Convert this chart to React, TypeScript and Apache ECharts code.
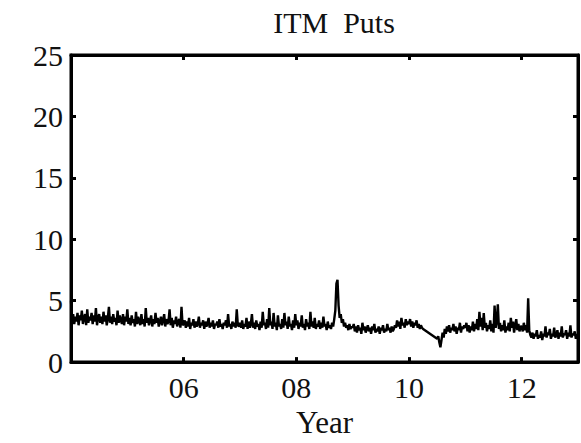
import React, { useEffect, useRef } from "react";
import * as echarts from "echarts";

// Weekly values (52 per year) of the ITM puts series
const y2004 = [5.0,3.2,3.9,3.1,3.7,3.3,4.0,3.0,3.8,3.4,4.2,3.1,3.6,3.9,3.0,4.3,3.2,3.7,3.4,4.0,3.1,3.8,3.3,4.4,3.0,3.6,3.9,3.2,3.7,3.1,4.1,3.3,3.8,3.0,3.6,4.5,3.2,3.7,3.1,3.9,3.3,3.6,3.0,4.2,3.2,3.8,3.4,3.1,3.9,3.0,3.7,3.3];
const y2005 = [4.3,3.1,3.6,3.0,3.8,3.2,3.5,2.9,4.1,3.1,3.7,3.3,3.0,3.9,3.1,3.5,2.9,4.4,3.2,3.6,3.0,3.4,3.8,2.9,3.5,3.1,4.0,3.2,3.6,2.9,3.3,3.7,3.0,3.4,3.9,2.9,3.5,3.1,3.3,4.3,3.0,3.6,2.8,3.4,3.1,3.7,2.9,3.3,3.5,2.8,4.5,3.0];
const y2006 = [3.1,3.4,2.8,3.3,2.9,3.6,2.7,3.2,3.0,3.5,2.8,3.3,2.9,3.1,3.7,2.8,3.2,3.0,3.4,2.7,3.3,2.9,3.1,3.6,2.8,3.2,2.9,3.4,2.7,3.1,3.0,3.3,2.8,3.5,2.9,3.1,2.7,3.2,3.0,3.4,2.8,3.9,2.9,3.1,2.7,3.3,2.9,3.2,2.8,4.3,3.0,2.9];
const y2007 = [3.2,2.8,3.4,2.7,3.1,2.9,3.6,2.7,3.3,2.8,3.1,3.9,2.8,3.2,2.7,3.4,2.9,3.1,2.6,3.3,2.8,4.1,3.0,3.2,2.7,3.5,2.8,4.4,3.0,3.3,2.7,4.0,2.9,3.2,2.6,3.8,2.9,3.1,2.7,3.5,2.8,4.0,3.0,3.3,2.7,3.7,2.9,3.1,2.6,3.4,2.8,3.9];
const y2008 = [3.0,3.4,2.7,3.2,2.9,3.8,2.8,3.1,2.6,3.5,2.9,3.2,2.7,4.1,2.9,3.3,2.8,3.6,2.7,3.1,2.9,3.4,2.7,3.2,2.8,3.7,2.9,3.1,2.6,3.3,2.8,3.0,2.7,3.2,2.9,3.5,4.2,6.4,6.7,4.6,3.6,3.9,3.2,3.5,2.9,3.2,2.8,3.0,2.6,3.1,2.7,2.9];
const y2009 = [2.8,3.1,2.5,2.9,2.4,3.0,2.6,2.8,2.3,3.2,2.6,2.9,2.4,2.7,3.0,2.5,2.8,2.3,2.9,2.6,3.1,2.4,2.7,2.5,2.9,2.3,2.8,2.6,3.0,2.4,2.7,2.5,3.1,2.6,2.8,2.4,2.9,2.5,2.7,3.0,2.8,3.4,2.9,3.3,2.7,3.6,3.0,3.2,2.8,3.5,3.0,3.3];
const y2010a = [3.1,3.5,2.9,3.3,2.8,3.2,3.0,3.4,2.8,3.1,2.7,3.0,2.8,2.7];
const y2010b = [1.9,2.1,1.6,1.2,1.8,2.4,2.0,2.7,2.3,2.9,2.5,3.0,2.4,2.8,2.6,3.1,2.5,2.9,2.3,2.8,2.6,3.2,2.4,2.9,2.7,3.0];
const y2011 = [2.8,3.2,2.5,3.0,2.4,2.9,2.6,3.3,2.5,3.1,2.7,3.5,2.6,4.1,2.9,3.6,2.6,4.0,2.8,3.2,2.5,3.0,2.7,3.4,2.5,3.1,2.4,4.6,2.8,3.3,4.7,2.7,3.2,2.5,3.0,2.6,3.4,2.4,2.9,2.6,3.2,2.5,3.6,2.8,3.3,2.4,3.0,3.5,2.6,3.1,2.5,2.9];
const y2012 = [2.9,2.5,3.2,2.6,3.0,2.4,5.2,2.6,2.2,2.0,2.4,1.9,2.3,2.1,2.6,1.9,2.2,2.0,2.5,1.8,2.3,2.1,2.9,2.0,2.4,2.2,2.7,1.9,2.3,2.1,2.8,2.0,2.2,2.6,1.9,2.4,2.1,2.9,2.0,2.3,2.2,2.6,1.9,2.4,2.1,3.0,2.0,2.3,2.2,2.5,1.9,2.3];

// segment start (fractional year) for each block of weekly values
const segments: [number, number[]][] = [
  [2004, y2004],
  [2005, y2005],
  [2006, y2006],
  [2007, y2007],
  [2008, y2008],
  [2009, y2009],
  [2010, y2010a],
  [2010.5, y2010b],
  [2011, y2011],
  [2012, y2012],
];

const xTicks = [2006, 2008, 2010, 2012];
const yTicks = [0, 5, 10, 15, 20, 25];

const FONT = "'Liberation Serif', 'DejaVu Serif', 'Times New Roman', serif";

export default function App() {
  const ref = useRef<HTMLDivElement>(null);
  useEffect(() => {
    if (!ref.current) return;
    const chart = echarts.init(ref.current, undefined, { renderer: "svg" });
    const data: [number, number][] = [];
    segments.forEach(([start, vals]) => {
      vals.forEach((v, i) => data.push([start + i / 52, v]));
    });
    const xLabel = (v: number) =>
      xTicks.includes(v) ? String(v % 100).padStart(2, "0") : "";
    const axisLine = () => ({ show: true, onZero: false, lineStyle: { color: "#000", width: 3 } });
    const tick = () => ({ show: true, inside: true, length: 5, lineStyle: { color: "#000", width: 3 } });
    chart.setOption({
      animation: false,
      backgroundColor: "#fff",
      title: {
        text: "ITM  Puts",
        left: 329,
        top: 2,
        textAlign: "center",
        textStyle: { fontFamily: FONT, fontSize: 30, fontWeight: "normal", color: "#111" },
      },
      grid: {
        left: 71, right: 3, top: 55, bottom: 76, containLabel: false,
        show: true, borderColor: "#000", borderWidth: 3, backgroundColor: "transparent",
      },
      xAxis: [
        {
          type: "value",
          position: "bottom",
          min: 2004,
          max: 2013,
          interval: 2,
          name: "Year",
          nameLocation: "middle",
          nameGap: 40,
          nameTextStyle: { fontFamily: FONT, fontSize: 31, color: "#111" },
          axisLine: axisLine(),
          axisTick: tick(),
          splitLine: { show: false },
          axisLabel: { formatter: xLabel, fontFamily: FONT, fontSize: 30, color: "#111", margin: 10 },
        },
        {
          type: "value",
          position: "top",
          min: 2004,
          max: 2013,
          interval: 2,
          axisLine: axisLine(),
          axisTick: tick(),
          splitLine: { show: false },
          axisLabel: { show: false },
        },
      ],
      yAxis: [
        {
          type: "value",
          position: "left",
          min: 0,
          max: 25,
          interval: 5,
          axisLine: axisLine(),
          axisTick: tick(),
          splitLine: { show: false },
          axisLabel: {
            formatter: (v: number) => (yTicks.includes(v) ? String(v) : ""),
            fontFamily: FONT,
            fontSize: 30,
            color: "#111",
            margin: 8,
          },
        },
        {
          type: "value",
          position: "right",
          min: 0,
          max: 25,
          interval: 5,
          axisLine: axisLine(),
          axisTick: tick(),
          splitLine: { show: false },
          axisLabel: { show: false },
        },
      ],
      series: [
        {
          type: "line",
          data,
          xAxisIndex: 0,
          yAxisIndex: 0,
          showSymbol: false,
          symbol: "none",
          lineStyle: { color: "#000", width: 2.4 },
        },
      ],
    });
    return () => chart.dispose();
  }, []);
  return (
    <div
      ref={ref}
      style={{ position: "fixed", left: 0, top: 0, width: 581, height: 443 }}
    />
  );
}
